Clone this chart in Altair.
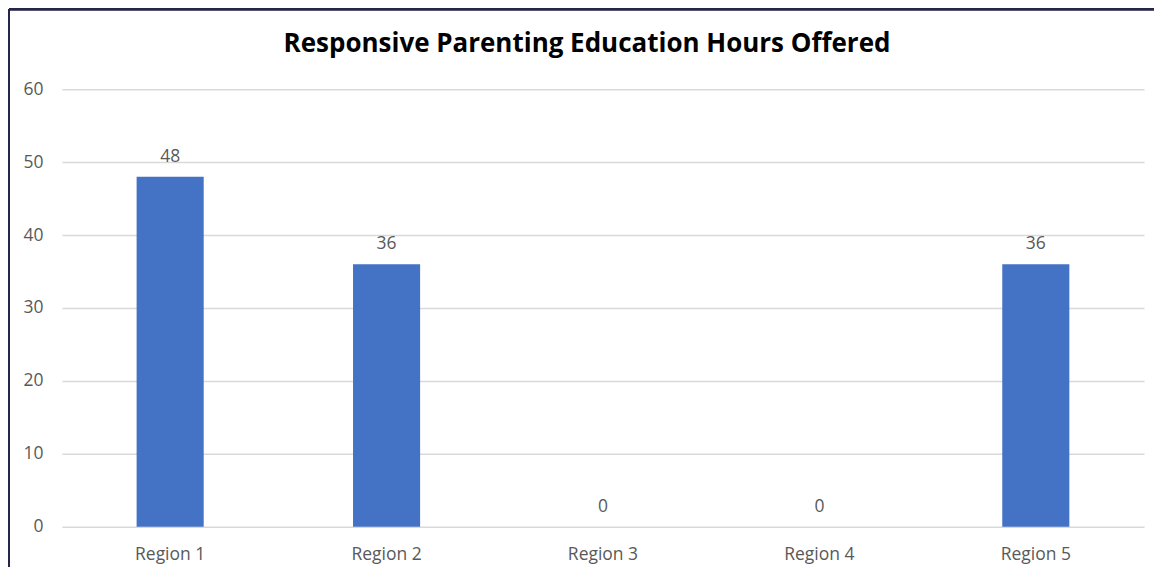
import altair as alt
import pandas as pd

regions = ["Region 1", "Region 2", "Region 3", "Region 4", "Region 5"]
hours = [48, 36, 0, 0, 36]
y_ticks = [0, 10, 20, 30, 40, 50, 60]

df = pd.DataFrame({"region": regions, "hours": hours})

FONT = "Open Sans"
GRAY = "#595959"

x_enc = alt.X("region:N", sort=regions,
              scale=alt.Scale(paddingInner=0.69, paddingOuter=0.345),
              axis=alt.Axis(title=None, labelAngle=0, labelFont=FONT, labelFontSize=17.5,
                            labelColor=GRAY, labelPadding=19, ticks=False, domain=False,
                            grid=False))
y_enc = alt.Y("hours:Q", scale=alt.Scale(domain=[0, 60], nice=False),
              axis=alt.Axis(title=None, values=y_ticks, labelFont=FONT, labelFontSize=17.5,
                            labelColor=GRAY, labelPadding=19, ticks=False, domain=False,
                            grid=True, gridColor="#d9d9d9", gridWidth=1.5))

bars = alt.Chart(df).mark_bar(color="#4472C4").encode(x=x_enc, y=y_enc)
labels = alt.Chart(df).mark_text(font=FONT, fontSize=17.5, color=GRAY, baseline="bottom", dy=-11).encode(
    x=alt.X("region:N", sort=regions), y="hours:Q", text="hours:Q")

border_left = alt.Chart(df).mark_rule(color="#26264a", strokeWidth=2).encode(
    x=alt.value(-53), y=alt.value(-80), y2=alt.value(495))
border_top = alt.Chart(df).mark_rule(color="#26264a", strokeWidth=2).encode(
    x=alt.value(-53), x2=alt.value(1110), y=alt.value(-80))

chart = alt.layer(bars, labels, border_left, border_top).properties(
    width=1083, height=438,
    background="white",
    title=alt.TitleParams("Responsive Parenting Education Hours Offered", font=FONT,
                          fontSize=26, fontWeight="bold", color="#000000",
                          anchor="middle", dx=-16, baseline="alphabetic", offset=-70),
    autosize=alt.AutoSizeParams(type="none"),
    padding={"left": 54, "top": 81, "right": 10, "bottom": 40},
).configure_view(strokeWidth=0)

chart.save("out.html", embed_options={"renderer": "svg", "actions": False})
